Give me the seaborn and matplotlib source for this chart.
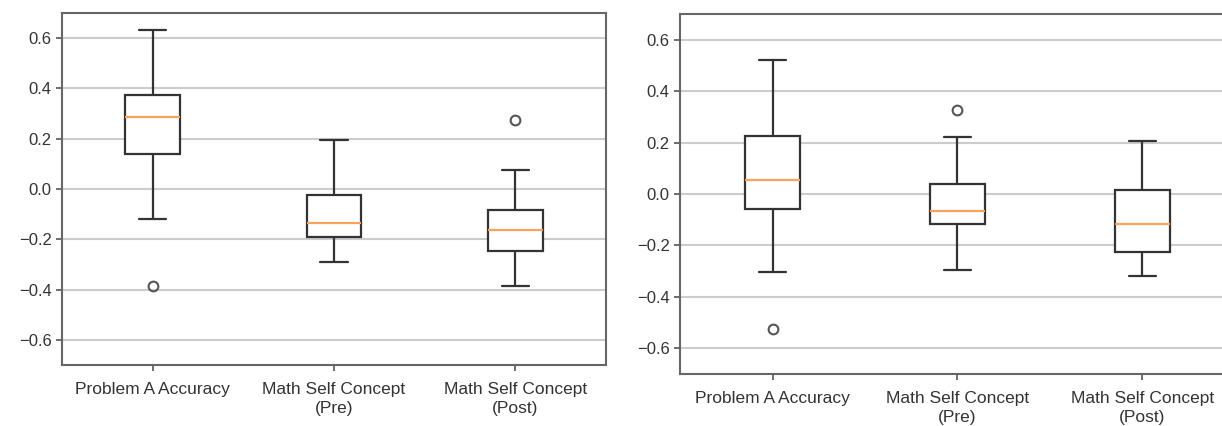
import matplotlib
matplotlib.use("Agg")
import matplotlib.pyplot as plt
import seaborn as sns
import pandas as pd

categories = ["Problem A Accuracy", "Math Self Concept\n(Pre)", "Math Self Concept\n(Post)"]

# Representative values per box (whisker ends, quartiles, median, outliers)
left_problem_a = [-0.385, -0.12, 0.14, 0.21, 0.285, 0.33, 0.372, 0.50, 0.634]
left_pre = [-0.29, -0.24, -0.19, -0.16, -0.135, -0.08, -0.025, 0.08, 0.195]
left_post = [-0.385, -0.30, -0.245, -0.20, -0.165, -0.12, -0.085, 0.075, 0.275]

right_problem_a = [-0.525, -0.305, -0.06, 0.0, 0.055, 0.15, 0.225, 0.40, 0.52]
right_pre = [-0.295, -0.20, -0.115, -0.09, -0.065, -0.01, 0.04, 0.22, 0.325]
right_post = [-0.32, -0.27, -0.225, -0.17, -0.115, -0.05, 0.015, 0.10, 0.205]

y_ticks = [-0.6, -0.4, -0.2, 0.0, 0.2, 0.4, 0.6]


def make_df(series):
    rows = []
    for cat, vals in zip(categories, series):
        for v in vals:
            rows.append({"cat": cat, "val": v})
    return pd.DataFrame(rows)


sns.set_style("white")
plt.rcParams["font.family"] = ["Liberation Sans", "DejaVu Sans"]

fig = plt.figure(figsize=(12.22, 4.26), dpi=100)
W, H = 1222, 426
ax1 = fig.add_axes([62 / W, 1 - 365 / H, 544 / W, (365 - 13) / H])
ax2 = fig.add_axes([680 / W, 1 - 374 / H, 555 / W, (374 - 14) / H])

for ax, series in [(ax1, [left_problem_a, left_pre, left_post]),
                   (ax2, [right_problem_a, right_pre, right_post])]:
    df = make_df(series)
    sns.boxplot(data=df, x="cat", y="val", order=categories, ax=ax, width=0.3,
                color="white", linecolor="#333333", linewidth=1.6, whis=1.5,
                medianprops=dict(color="#f7a35c", linewidth=1.6),
                flierprops=dict(marker="o", markerfacecolor="none",
                                markeredgecolor="#555555", markersize=7,
                                markeredgewidth=1.5))
    ax.set_ylim(-0.70, 0.70)
    ax.set_yticks(y_ticks)
    ax.set_yticklabels([f"{t:.1f}".replace("-", "\u2212") for t in y_ticks])
    ax.set_xticks(range(len(categories)))
    ax.set_xticklabels(categories, linespacing=1.35)
    ax.set_xlabel("")
    ax.set_ylabel("")
    ax.yaxis.grid(True, color="#cccccc", linewidth=1.5)
    ax.set_axisbelow(True)
    for s in ax.spines.values():
        s.set_color("#666666")
        s.set_linewidth(1.5)
    ax.tick_params(axis="both", which="both", length=4, width=1.2, color="#555555",
                   labelcolor="#333333", bottom=True, left=True)
    ax.tick_params(axis="y", labelsize=12)
    ax.tick_params(axis="x", pad=8, labelsize=12.5)

fig.savefig("out.png", dpi=100)
